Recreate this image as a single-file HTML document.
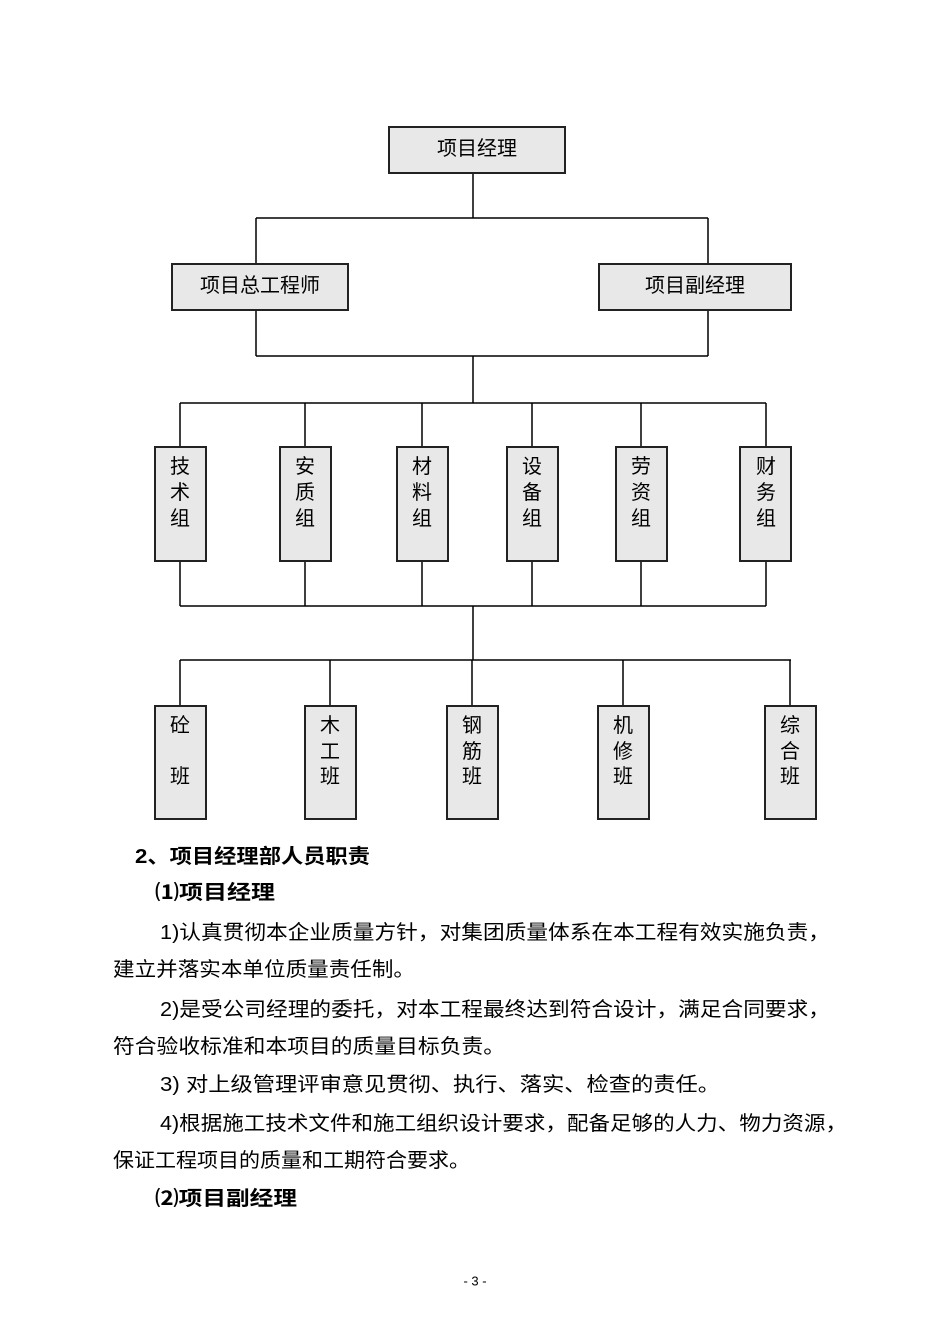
<!DOCTYPE html>
<html><head><meta charset="utf-8"><style>
html,body{margin:0;padding:0;background:#fff;}
svg{display:block;}
text{font-family:"Liberation Sans","Noto Sans CJK SC",sans-serif;fill:#000;}
</style></head><body>
<svg width="950" height="1344" viewBox="0 0 950 1344" xmlns="http://www.w3.org/2000/svg">
<g stroke="#000" stroke-width="1.5" fill="none">
<path d="M473 173V218M256 218H708M256 218V264M708 218V264M256 310V356M708 310V356M256 356H708M473 356V403M180 403H766"/>
<path d="M180 403V447M305 403V447M422 403V447M532 403V447M641 403V447M766 403V447"/>
<path d="M180 561V606M305 561V606M422 561V606M532 561V606M641 561V606M766 561V606M180 606H766M473 606V660M180 660H791"/>
<path d="M180 660V706M330 660V706M472 660V706M623 660V706M790 660V706"/>
</g>
<g fill="#e8e8e8" stroke="#222" stroke-width="2">
<rect x="389" y="127" width="176" height="46"/>
<rect x="172" y="264" width="176" height="46"/>
<rect x="599" y="264" width="192" height="46"/>
<rect x="155" y="447" width="51" height="114"/>
<rect x="280" y="447" width="51" height="114"/>
<rect x="397" y="447" width="51" height="114"/>
<rect x="507" y="447" width="51" height="114"/>
<rect x="616" y="447" width="51" height="114"/>
<rect x="740" y="447" width="51" height="114"/>
<rect x="155" y="706" width="51" height="113"/>
<rect x="305" y="706" width="51" height="113"/>
<rect x="447" y="706" width="51" height="113"/>
<rect x="598" y="706" width="51" height="113"/>
<rect x="765" y="706" width="51" height="113"/>
</g>
<g font-size="20" text-anchor="middle" dominant-baseline="central">
<text x="477" y="149">项目经理</text>
<text x="260" y="286">项目总工程师</text>
<text x="695" y="286">项目副经理</text>
<g>
<text x="180" y="467">技</text><text x="180" y="493">术</text><text x="180" y="519">组</text>
<text x="305" y="467">安</text><text x="305" y="493">质</text><text x="305" y="519">组</text>
<text x="422" y="467">材</text><text x="422" y="493">料</text><text x="422" y="519">组</text>
<text x="532" y="467">设</text><text x="532" y="493">备</text><text x="532" y="519">组</text>
<text x="641" y="467">劳</text><text x="641" y="493">资</text><text x="641" y="519">组</text>
<text x="766" y="467">财</text><text x="766" y="493">务</text><text x="766" y="519">组</text>
<text x="180" y="726">砼</text><text x="180" y="777">班</text>
<text x="330" y="726">木</text><text x="330" y="752">工</text><text x="330" y="777">班</text>
<text x="472" y="726">钢</text><text x="472" y="752">筋</text><text x="472" y="777">班</text>
<text x="623" y="726">机</text><text x="623" y="752">修</text><text x="623" y="777">班</text>
<text x="790" y="726">综</text><text x="790" y="752">合</text><text x="790" y="777">班</text>
</g>
</g>
<g font-size="20" dominant-baseline="central">
<text x="135" y="857" font-weight="bold" textLength="235" lengthAdjust="spacingAndGlyphs">2、项目经理部人员职责</text>
<text x="155" y="893" font-weight="bold" textLength="120" lengthAdjust="spacingAndGlyphs">⑴项目经理</text>
<text x="160" y="933" textLength="670" lengthAdjust="spacingAndGlyphs">1)认真贯彻本企业质量方针，对集团质量体系在本工程有效实施负责，</text>
<text x="113" y="970" textLength="302" lengthAdjust="spacingAndGlyphs">建立并落实本单位质量责任制。</text>
<text x="160" y="1010" textLength="670" lengthAdjust="spacingAndGlyphs">2)是受公司经理的委托，对本工程最终达到符合设计，满足合同要求，</text>
<text x="113" y="1047" textLength="392" lengthAdjust="spacingAndGlyphs">符合验收标准和本项目的质量目标负责。</text>
<text x="160" y="1085" textLength="560" lengthAdjust="spacingAndGlyphs">3) 对上级管理评审意见贯彻、执行、落实、检查的责任。</text>
<text x="160" y="1124" textLength="687" lengthAdjust="spacingAndGlyphs">4)根据施工技术文件和施工组织设计要求，配备足够的人力、物力资源，</text>
<text x="113" y="1161" textLength="357" lengthAdjust="spacingAndGlyphs">保证工程项目的质量和工期符合要求。</text>
<text x="155" y="1199" font-weight="bold" textLength="142" lengthAdjust="spacingAndGlyphs">⑵项目副经理</text>
<text x="475" y="1281" font-size="13" text-anchor="middle">- 3 -</text>
</g>
</svg>
</body></html>
